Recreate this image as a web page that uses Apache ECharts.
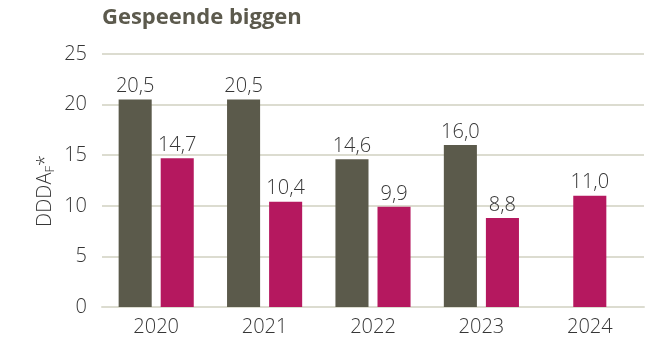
<!DOCTYPE html>
<html>
<head>
<meta charset="utf-8">
<script src="https://cdn.jsdelivr.net/npm/echarts@6/dist/echarts.min.js"></script>
<style>
  html, body { margin: 0; padding: 0; background: #fff; }
  #chart { width: 663px; height: 340px; }
</style>
</head>
<body>
<div id="chart"></div>
<script>
// Jaren en DDDAF-waarden per reeks
const years = ['2020', '2021', '2022', '2023', '2024'];
const greyValues = [20.5, 20.5, 14.6, 16.0, null];
const pinkValues = [14.7, 10.4, 9.9, 8.8, 11.0];
const yTicks = [0, 5, 10, 15, 20, 25];

const GREY = '#5b5a4b';
const PINK = '#b5185f';
const TEXT = '#363636';
const GRID = '#dcdcd0';
const FONT = '"Open Sans", sans-serif';
const LABEL_SIZE = 20;

const fmt = v => v.toFixed(1).replace('.', ',');

// Bars are drawn as a custom series so a lone bar in a category stays centred
function makeRender(own, other, side) {
  return function (params, api) {
    const idx = api.value(0);
    const val = api.value(1);
    const band = api.size([1, 0])[0];
    const barW = band * 0.305;
    const gap = band * 0.083;
    const paired = own[idx] != null && other[idx] != null;
    const base = api.coord([idx, 0]);
    const top = api.coord([idx, val]);
    const offset = paired ? side * (barW / 2 + gap / 2) : 0;
    const cx = base[0] + offset;
    return {
      type: 'rect',
      shape: { x: cx - barW / 2, y: top[1], width: barW, height: base[1] - top[1] },
      style: api.style({ fill: api.visual('color') }),
      textContent: {
        style: {
          text: fmt(val),
          fill: TEXT,
          fontFamily: FONT,
          fontSize: LABEL_SIZE,
          fontWeight: 300
        }
      },
      textConfig: { position: 'top', distance: 3 }
    };
  };
}

const toData = arr => arr.map((v, i) => (v == null ? null : [i, v])).filter(d => d);

const chart = echarts.init(document.getElementById('chart'), null, { renderer: 'canvas' });
chart.setOption({
  animation: false,
  title: {
    text: 'Gespeende biggen',
    left: 97,
    top: 2,
    textStyle: { fontFamily: FONT, fontWeight: 'bold', fontSize: 22, color: '#5c5a4d' }
  },
  graphic: [
    {
      // y-as titel met subscript F
      type: 'text',
      x: 45,
      y: 191,
      rotation: Math.PI / 2,
      style: {
        text: 'DDDA{sub|F}*',
        align: 'center',
        verticalAlign: 'middle',
        fill: TEXT,
        fontFamily: FONT,
        fontSize: LABEL_SIZE,
        fontWeight: 300,
        rich: {
          sub: { fontFamily: FONT, fontSize: 13, fontWeight: 300, fill: TEXT, padding: [10, 0, 0, 0] }
        }
      }
    }
  ],
  grid: { left: 102, right: 19, top: 54, bottom: 33 },
  xAxis: {
    type: 'category',
    data: years,
    axisLine: { show: true, lineStyle: { color: GRID, width: 2 } },
    axisTick: { show: false },
    axisLabel: { color: TEXT, fontFamily: FONT, fontSize: LABEL_SIZE, fontWeight: 300, margin: 10 }
  },
  yAxis: {
    type: 'value',
    min: yTicks[0],
    max: yTicks[yTicks.length - 1],
    interval: 5,
    axisLine: { show: false },
    axisTick: { show: false },
    axisLabel: { color: TEXT, fontFamily: FONT, fontSize: LABEL_SIZE, fontWeight: 300, margin: 15 },
    splitLine: { lineStyle: { color: GRID, width: 2 } }
  },
  series: [
    {
      name: 'grijs',
      type: 'custom',
      itemStyle: { color: GREY },
      encode: { x: 0, y: 1 },
      renderItem: makeRender(greyValues, pinkValues, -1),
      data: toData(greyValues)
    },
    {
      name: 'roze',
      type: 'custom',
      itemStyle: { color: PINK },
      encode: { x: 0, y: 1 },
      renderItem: makeRender(pinkValues, greyValues, 1),
      data: toData(pinkValues)
    }
  ]
});
</script>
</body>
</html>
